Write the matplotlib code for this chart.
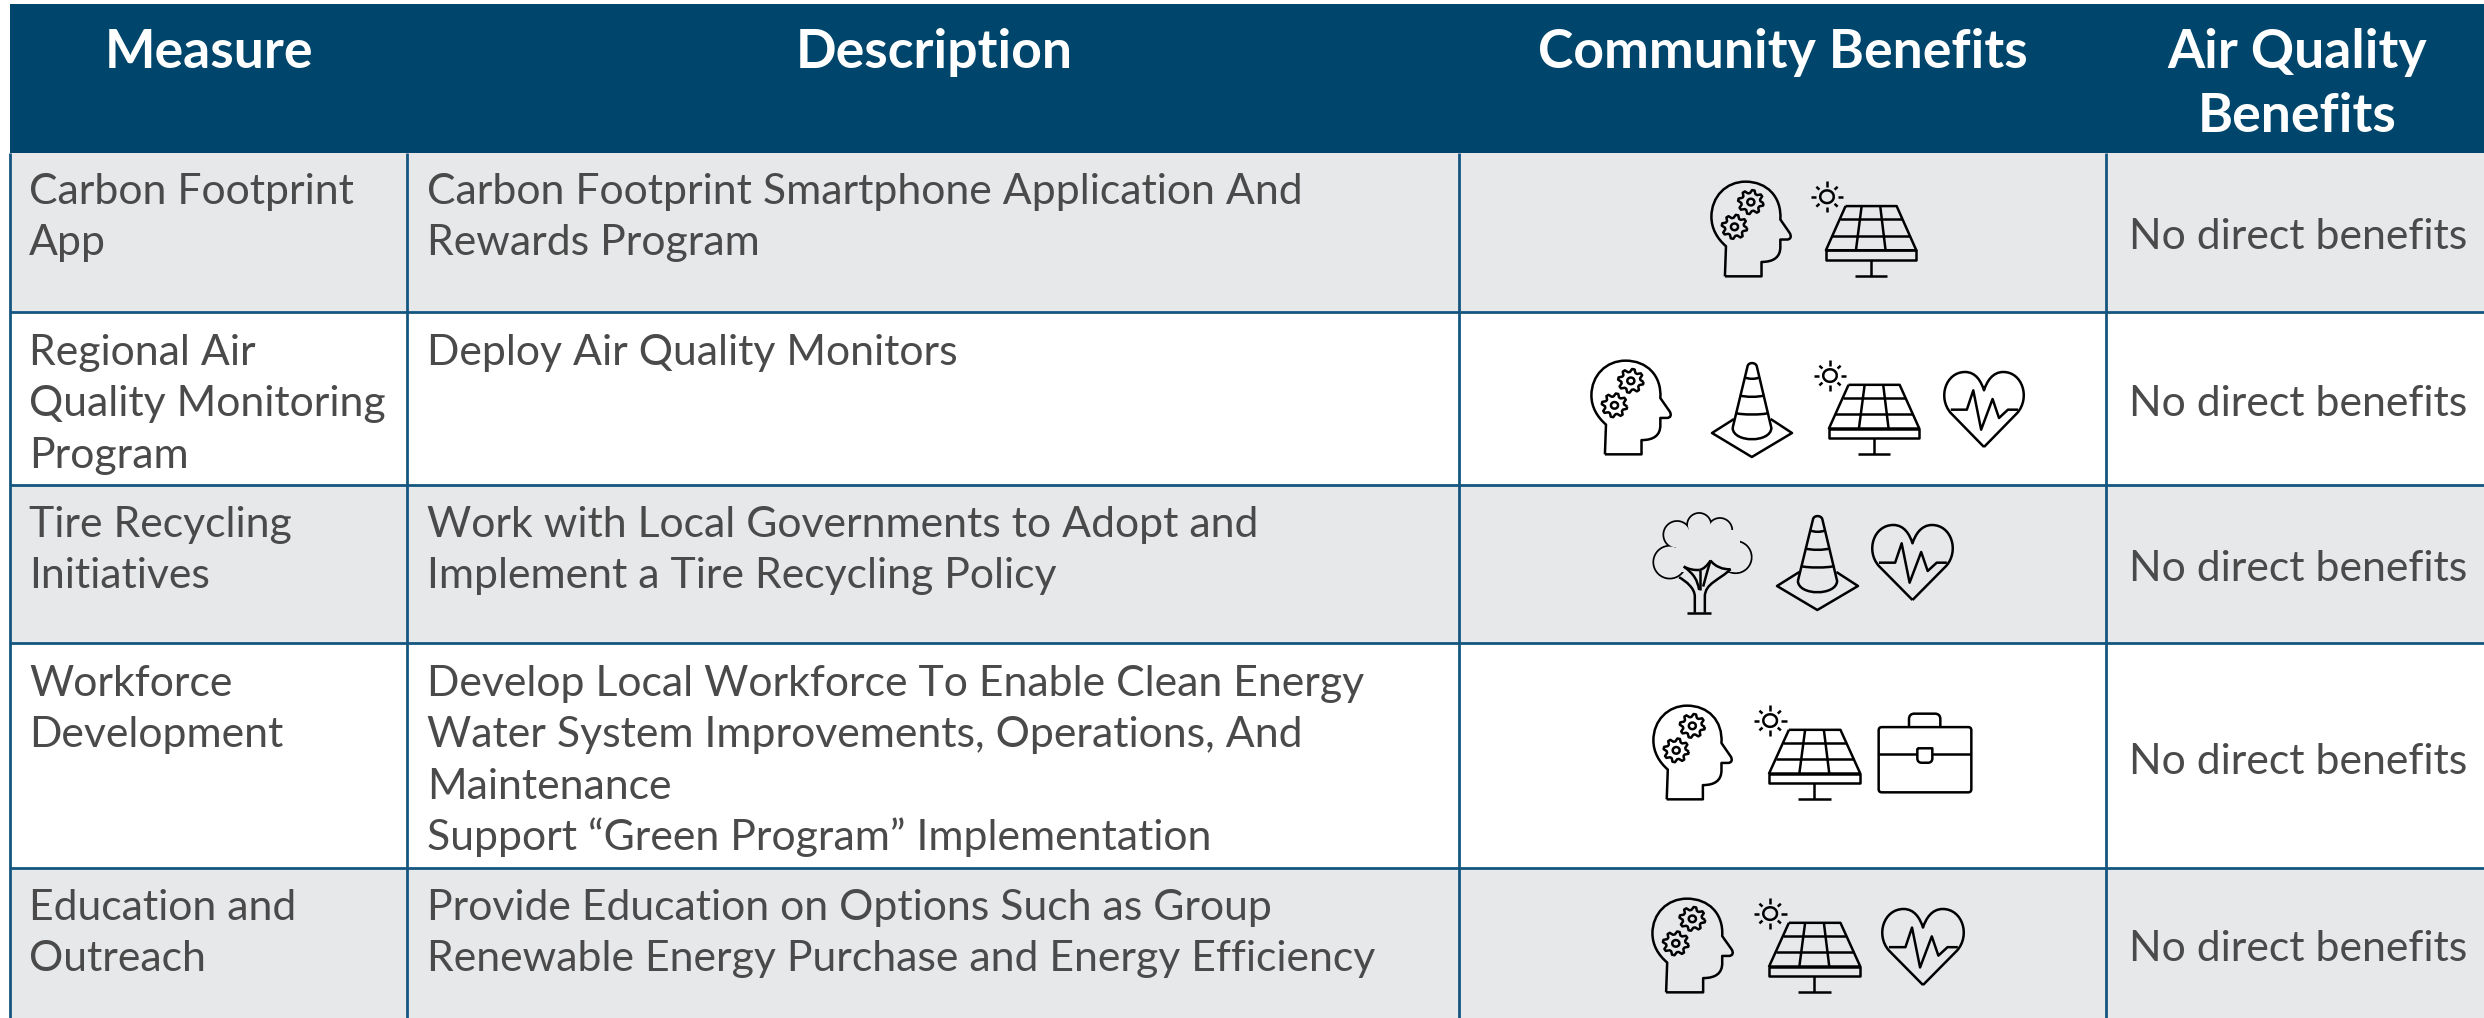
import numpy as np
import matplotlib
matplotlib.use("Agg")
import matplotlib.pyplot as plt
from matplotlib.path import Path
from matplotlib.patches import PathPatch, Rectangle, Circle

plt.rcParams['font.family'] = ['Lato', 'DejaVu Sans']

headers = ["Measure", "Description", "Community Benefits", "Air Quality\nBenefits"]
measures = [
    ["Carbon Footprint", "App"],
    ["Regional Air", "Quality Monitoring", "Program"],
    ["Tire Recycling", "Initiatives"],
    ["Workforce", "Development"],
    ["Education and", "Outreach"],
]
descriptions = [
    ["Carbon Footprint Smartphone Application And", "Rewards Program"],
    ["Deploy Air Quality Monitors"],
    ["Work with Local Governments to Adopt and", "Implement a Tire Recycling Policy"],
    ["Develop Local Workforce To Enable Clean Energy", "Water System Improvements, Operations, And",
     "Maintenance", "Support \u201cGreen Program\u201d Implementation"],
    ["Provide Education on Options Such as Group", "Renewable Energy Purchase and Energy Efficiency"],
]
air_benefit = "No direct benefits"

# icon name and its box (left, top, right, bottom) in image pixels
row_icons = [
    [("head", 1710, 181, 1791, 277), ("solar", 1812, 181, 1917, 277)],
    [("head", 1590, 360, 1671, 455), ("cone", 1712, 363, 1792, 457),
     ("solar", 1815, 360, 1920, 455), ("heart", 1944, 372, 2024, 447)],
    [("tree", 1653, 513, 1752, 614), ("cone", 1777, 516, 1858, 610), ("heart", 1872, 525, 1953, 600)],
    [("head", 1652, 705, 1732, 800), ("solar", 1755, 705, 1861, 800), ("case", 1878, 713, 1972, 793)],
    [("head", 1651, 898, 1733, 993), ("solar", 1755, 898, 1861, 993), ("heart", 1882, 909, 1964, 985)],
]

W, H = 2484, 1018
col_edges = [10, 407, 1459, 2106, 2484]
row_edges = [153, 312, 485, 643, 868, 1018]
text_base = [203.6, 365, 537, 696, 920]
header_top = 4
NAVY = "#00456B"
LINE = "#145680"
GREY = "#E7E8EA"
TEXT = "#4A4A4A"
LW = 1.8

fig = plt.figure(figsize=(W / 100, H / 100), dpi=100)
ax = fig.add_axes([0, 0, 1, 1])
ax.set_xlim(0, W)
ax.set_ylim(H, 0)
ax.axis("off")

M, L, C4 = Path.MOVETO, Path.LINETO, Path.CURVE4


def curve(*segs):
    # segs: first a start point, then 1 point (line) or 3 points (bezier)
    verts, codes = [segs[0]], [M]
    for s in segs[1:]:
        if len(s) == 2 and np.isscalar(s[0]):
            verts.append(s)
            codes.append(L)
        else:
            verts.extend(s)
            codes.extend([C4] * 3)
    return verts, codes


def stroke(box, src, verts, codes, fc="none"):
    # map source drawing coords onto the target pixel box
    x0, y0, x1, y1 = src
    l, t, r, b = box
    v = np.array(verts, dtype=float)
    v[:, 0] = l + (v[:, 0] - x0) / (x1 - x0) * (r - l)
    v[:, 1] = t + (v[:, 1] - y0) / (y1 - y0) * (b - t)
    ax.add_patch(PathPatch(Path(v, codes), fc=fc, ec="black", lw=LW, capstyle="butt", joinstyle="round", zorder=4))


def poly(box, src, pts, closed=False):
    pts = list(pts)
    if closed:
        pts = pts + [pts[0]]
    stroke(box, src, pts, [M] + [L] * (len(pts) - 1))


def circle_pts(cx, cy, r, n=40):
    t = np.linspace(0, 2 * np.pi, n)
    return list(zip(cx + r * np.cos(t), cy + r * np.sin(t)))


def gear(box, src, cx, cy):
    t = np.linspace(0, 2 * np.pi, 8 * 4, endpoint=False) + 0.1
    rad = np.array([36, 36, 27, 27] * 8)
    poly(box, src, list(zip(cx + rad * np.cos(t), cy + rad * np.sin(t))), closed=True)
    poly(box, src, circle_pts(cx, cy, 10))


def draw_head(box):
    src = (420, 93, 648, 380)
    v, c = curve((462, 378), (565, 378), (565, 335),
                 [(600, 335), (618, 320), (618, 290)], (618, 268), (636, 268),
                 [(648, 268), (650, 258), (644, 248)], (618, 208),
                 [(622, 140), (580, 95), (520, 95)],
                 [(465, 95), (424, 140), (424, 200)],
                 [(424, 235), (440, 265), (465, 288)], (462, 378))
    stroke(box, src, v, c)
    gear(box, src, 535, 156)
    gear(box, src, 489, 230)


def draw_solar(box):
    src = (706, 93, 1000, 380)
    poly(box, src, circle_pts(748, 140, 19))
    for a in np.arange(8) * np.pi / 4:
        r0, r1 = (30, 46) if a % (np.pi / 2) < 0.01 else (30, 42)
        poly(box, src, [(748 + r0 * np.cos(a), 140 + r0 * np.sin(a)), (748 + r1 * np.cos(a), 140 + r1 * np.sin(a))])
    poly(box, src, [(800, 168), (943, 168), (998, 300), (745, 300)], closed=True)
    poly(box, src, [(745, 300), (998, 300), (998, 328), (745, 328)], closed=True)
    for y in (207, 256):
        s = (y - 168) / 132
        poly(box, src, [(800 - 55 * s, y), (943 + 55 * s, y)])
    poly(box, src, [(845, 168), (829, 300)])
    poly(box, src, [(897, 168), (912, 300)])
    poly(box, src, [(871, 328), (871, 376)])
    poly(box, src, [(826, 376), (916, 376)])


def draw_cone(box):
    src = (425, 640, 650, 922)
    v, c = curve((483, 835), (525, 650), [(527, 637), (548, 637), (551, 650)], (592, 835),
                 [(590, 880), (485, 880), (483, 835)])
    stroke(box, src, v, c)
    for y, x0, x1 in ((683, 516, 560), (737, 503, 572), (790, 491, 584)):
        v, c = curve((x0, y), [(x0 + 15, y + 6), (x1 - 15, y + 6), (x1, y)])
        stroke(box, src, v, c)
    poly(box, src, [(487, 808), (425, 850), (537, 922), (650, 850), (590, 808)])


def draw_heart(box):
    src = (1076, 667, 1300, 892)
    v, c = curve((1188, 892), (1095, 790),
                 [(1058, 745), (1080, 667), (1135, 667)],
                 [(1165, 667), (1180, 695), (1188, 722)],
                 [(1196, 695), (1212, 667), (1242, 667)],
                 [(1296, 667), (1318, 745), (1281, 790)], (1188, 892))
    stroke(box, src, v, c)
    poly(box, src, [(1095, 780), (1140, 780), (1158, 722), (1180, 840), (1212, 748),
                    (1230, 805), (1255, 780), (1283, 780)])


def draw_case(box):
    src = (775, 640, 1057, 878)
    v, c = curve((787, 682), (1045, 682), [(1052, 682), (1055, 685), (1055, 692)], (1055, 866),
                 [(1055, 873), (1052, 876), (1045, 876)], (787, 876),
                 [(780, 876), (777, 873), (777, 866)], (777, 692),
                 [(777, 685), (780, 682), (787, 682)])
    stroke(box, src, v, c)
    v, c = curve((868, 682), (868, 658), [(868, 648), (874, 642), (884, 642)], (946, 642),
                 [(956, 642), (962, 648), (962, 658)], (962, 682))
    stroke(box, src, v, c)
    poly(box, src, [(777, 761), (893, 761)])
    poly(box, src, [(938, 761), (1055, 761)])
    v, c = curve((893, 745), (938, 745), (938, 775), [(938, 784), (932, 788), (925, 788)], (906, 788),
                 [(899, 788), (893, 784), (893, 775)], (893, 745))
    stroke(box, src, v, c)


def draw_tree(box, bg=GREY):
    src = (100, 40, 396, 342)
    lobes = [(150, 187, 48), (172, 105, 40), (238, 76, 35), (300, 92, 36), (347, 172, 47), (325, 130, 30)]
    for cx, cy, r in lobes:
        poly(box, src, circle_pts(cx, cy, r))
    # cover the inner arcs so only the outline of the crown is left
    l, t, r_, b = box
    sx, sy = (r_ - l) / 296, (b - t) / 302
    for cx, cy, r in lobes:
        ax.add_patch(Circle((l + (cx - 100) * sx, t + (cy - 40) * sy), (r - 1.5) * sx, fc=bg, ec="none", zorder=5))
    ax.add_patch(Rectangle((l + 70 * sx, t + 50 * sy), 190 * sx, 125 * sy, fc=bg, ec="none", zorder=5))
    trunk = [
        curve((225, 338), (225, 290), [(225, 265), (200, 245), (178, 232)]),
        curve((255, 338), (255, 290), [(255, 250), (300, 240), (332, 208)]),
        curve((238, 270), [(232, 240), (225, 225), (192, 200)]),
        curve((240, 270), (240, 210)),
        curve((250, 260), [(258, 230), (265, 205), (272, 182)]),
        curve((192, 200), [(205, 208), (225, 212), (240, 210)]),
        curve((240, 210), [(250, 208), (262, 198), (272, 182)]),
        curve((272, 182), [(285, 200), (310, 210), (332, 208)]),
    ]
    for v, c in trunk:
        vv = np.array(v, dtype=float)
        vv[:, 0] = l + (vv[:, 0] - 100) * sx
        vv[:, 1] = t + (vv[:, 1] - 40) * sy
        ax.add_patch(PathPatch(Path(vv, c), fc="none", ec="black", lw=LW, zorder=6))
    y = t + 298 * sy
    ax.plot([l + 102 * sx, l + 174 * sx], [y, y], color="black", lw=LW, zorder=6, solid_capstyle="butt")


icon_funcs = {"head": draw_head, "solar": draw_solar, "cone": draw_cone,
              "heart": draw_heart, "case": draw_case, "tree": draw_tree}

# header block
ax.add_patch(Rectangle((col_edges[0], header_top), W - col_edges[0], row_edges[0] - header_top, fc=NAVY, ec="none"))

# body cells
for i in range(5):
    fc = GREY if i % 2 == 0 else "white"
    ax.add_patch(Rectangle((col_edges[0], row_edges[i]), W - col_edges[0], row_edges[i + 1] - row_edges[i], fc=fc, ec="none"))

for y in row_edges[1:-1]:
    ax.plot([col_edges[0], W], [y, y], color=LINE, lw=2.0, zorder=3, solid_capstyle="butt")
for x in col_edges[:-1]:
    ax.plot([x, x], [row_edges[0], H], color=LINE, lw=2.0, zorder=3, solid_capstyle="butt")

# header text
head_size = 38.5
head_x = [209, 934, 1783, 2297]
for x, h in zip(head_x, headers):
    for k, part in enumerate(h.split("\n")):
        ax.text(x, 68 + 63.5 * k, part, color="white", fontsize=head_size, fontweight="bold",
                ha="center", va="baseline", zorder=5)

body_size = 30.8
pitch = 51.3
for i in range(5):
    base = text_base[i]
    for k, line in enumerate(measures[i]):
        ax.text(29, base + k * pitch, line, color=TEXT, fontsize=body_size, ha="left", va="baseline", zorder=5)
    for k, line in enumerate(descriptions[i]):
        ax.text(427, base + k * pitch, line, color=TEXT, fontsize=body_size, ha="left", va="baseline", zorder=5)

air_base = [249, 416, 581, 774, 961]
for y in air_base:
    ax.text(2129, y, air_benefit, color=TEXT, fontsize=body_size, ha="left", va="baseline", zorder=5)

for icons in row_icons:
    for name, l, t, r, b in icons:
        icon_funcs[name]((l, t, r, b))

fig.savefig("out.png", dpi=100)
